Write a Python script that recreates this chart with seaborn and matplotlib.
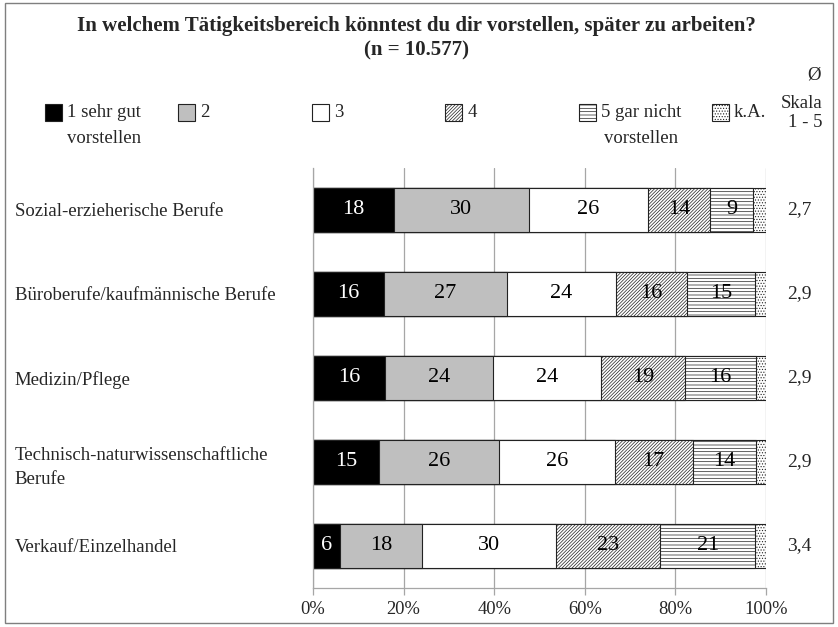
import matplotlib
matplotlib.use("Agg")
import matplotlib.pyplot as plt
from matplotlib.patches import Rectangle
import numpy as np
import seaborn as sns

# data (percent)
berufe = ["Sozial-erzieherische Berufe", "Büroberufe/kaufmännische Berufe", "Medizin/Pflege",
          "Technisch-naturwissenschaftliche\nBerufe", "Verkauf/Einzelhandel"]
antworten = ["1 sehr gut\nvorstellen", "2", "3", "4", "5 gar nicht\nvorstellen", "k.A."]
sehr_gut = [17.9, 15.6, 15.9, 14.6, 6.0]
zwei = [29.7, 27.3, 23.8, 26.4, 18.0]
drei = [26.3, 23.9, 23.8, 25.6, 29.6]
vier = [13.8, 15.8, 18.6, 17.2, 23.1]
gar_nicht = [9.4, 15.0, 15.6, 13.9, 20.9]
keine_angabe = [2.9, 2.4, 2.3, 2.3, 2.4]
mittelwert = ["2,7", "2,9", "2,9", "2,9", "3,4"]
ticks = [0, 20, 40, 60, 80, 100]

farben = ["#000000", "#bfbfbf", "#ffffff", "#ffffff", "#ffffff", "#ffffff"]
muster = [None, None, None, "//////////", "-----", "......"]

sns.set_theme(style="white")
plt.rcParams["font.family"] = ["Liberation Serif", "DejaVu Serif"]
plt.rcParams["hatch.color"] = "#333333"
plt.rcParams["hatch.linewidth"] = 0.5

werte = np.array([sehr_gut, zwei, drei, vier, gar_nicht, keine_angabe])
summen = np.cumsum(werte, axis=0)

fig = plt.figure(figsize=(8.38, 6.27), dpi=100)
ax = fig.add_axes([313 / 838, 1 - 588 / 627, 453 / 838, 420 / 627])

# stacked bars: draw the cumulative totals from the back to the front
for j in range(len(antworten) - 1, -1, -1):
    sns.barplot(x=summen[j], y=berufe, order=berufe, orient="h", color=farben[j],
                saturation=1, width=0.52, edgecolor="#222222", linewidth=0.8,
                hatch=muster[j], errorbar=None, ax=ax)

# numbers in the segments (not for k.A.)
for j in range(len(antworten) - 1):
    for i in range(len(berufe)):
        mitte = summen[j][i] - werte[j][i] / 2
        ax.text(mitte, i, f"{werte[j][i]:.0f}", ha="center", va="center", fontsize=16,
                color="white" if j == 0 else "black")

# mean values on the right
for i, m in enumerate(mittelwert):
    ax.text(107.3, i, m, ha="center", va="center", fontsize=14, clip_on=False)

ax.set_xlim(0, 100)
ax.set_ylim(len(berufe) - 0.5, -0.5)
ax.set_xticks(ticks)
ax.set_xticklabels([f"{t}%" for t in ticks], fontsize=13.3)
ax.set_xlabel("")
ax.set_ylabel("")
ax.grid(axis="x", color="#a6a6a6", linewidth=0.9)
ax.grid(axis="y", visible=False)
ax.set_axisbelow(True)
ax.tick_params(axis="x", bottom=True, length=5, width=0.9, color="#a6a6a6", pad=4)
ax.tick_params(axis="y", length=0, pad=214.6, labelsize=13.5)
for lab in ax.get_yticklabels():
    lab.set_horizontalalignment("left")
    lab.set_linespacing(1.5)
for s in ["top", "right"]:
    ax.spines[s].set_visible(False)
for s in ["left", "bottom"]:
    ax.spines[s].set_color("#a6a6a6")
    ax.spines[s].set_linewidth(0.9)

# title
fig.text(416 / 838, 1 - 16 / 627, "In welchem Tätigkeitsbereich könntest du dir vorstellen, später zu arbeiten?\n(n = 10.577)",
         ha="center", va="top", fontsize=15, fontweight="bold", linespacing=1.28)

# legend, one column every 133 px
W, H = 838, 627
for j, name in enumerate(antworten):
    x0 = 45 + j * 133.4
    fig.add_artist(Rectangle((x0 / W, 1 - 121 / H), 17 / W, 17 / H, transform=fig.transFigure,
                             facecolor=farben[j], edgecolor="#222222", linewidth=0.8,
                             hatch=muster[j]))
    t = fig.text((x0 + 22) / W, 1 - 104 / H, name, ha="left", va="top", fontsize=13.5,
                 linespacing=1.66)
    t.set_multialignment("center")

# header of the mean column
fig.text(814 / W, 1 - 75 / H, "Ø", ha="center", va="center", fontsize=13.5)
fig.text(822 / W, 1 - 113 / H, "Skala\n1 - 5", ha="right", va="center", fontsize=13.5,
         linespacing=1.15, multialignment="right")

# frame around the whole picture
fig.add_artist(Rectangle((5 / W, 4 / H), 828 / W, 620 / H, transform=fig.transFigure,
                         fill=False, edgecolor="#7f7f7f", linewidth=1))

fig.savefig("out.png", dpi=100)
